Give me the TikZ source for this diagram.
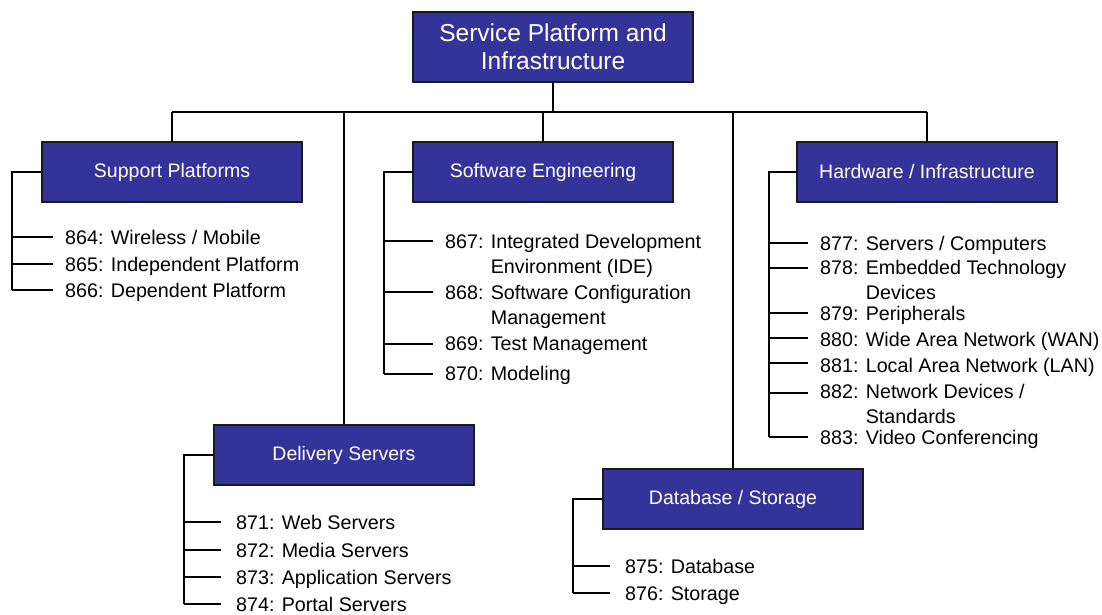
\documentclass[tikz,border=0pt]{standalone}
\usepackage{fontspec}
\setmainfont{Liberation Sans}
\definecolor{boxblue}{HTML}{333399}
\definecolor{edgegray}{HTML}{1A1A1A}
\tikzset{
  bluebox/.style={draw=edgegray, line width=1.5pt, fill=boxblue, text=white,
    minimum width=260pt, minimum height=60pt, inner sep=0pt,
    font=\fontsize{19.5}{24}\selectfont},
  titlebox/.style={bluebox, minimum width=280pt, minimum height=70pt, align=center,
    font=\fontsize{24.5}{28}\selectfont},
  item/.style={anchor=base west, inner sep=0pt, font=\fontsize{19.7}{25.7}\selectfont},
  mainline/.style={line width=2.2pt, draw=black},
  bus/.style={line width=1.6pt, draw=black},
  drop/.style={line width=1.1pt, draw=black},
  trunk/.style={line width=1.6pt, draw=black},
  tick/.style={line width=1.1pt, draw=black},
}
\newcommand{\twoline}[3]{\begin{tabular}[t]{@{}l@{ }l@{}}#1 & #2\\ & #3\end{tabular}}
\begin{document}
\begin{tikzpicture}[x=1pt, y=-1pt]
\useasboundingbox (0,0) rectangle (1102,614);

% boxes
\node[titlebox] (top) at (553,47) {Service Platform and\\Infrastructure};
\node[bluebox] (sp) at (172,172) {Support Platforms};
\node[bluebox] (se) at (543,172) {Software Engineering};
\node[bluebox] (hw) at (927,172) {Hardware / Infrastructure};
\node[bluebox] (ds) at (344,455) {Delivery Servers};
\node[bluebox] (db) at (733,499) {Database / Storage};

% bus
\coordinate (bus) at (553,112);
\coordinate (busL) at (172,112);
\coordinate (busR) at (927,112);
\draw[mainline] (top.south) -- (bus);
\draw[bus] (busL) -- (busR);
\draw[drop] (sp.north) -- (sp.north |- bus);
\draw[drop] (se.north) -- (se.north |- bus);
\draw[drop] (hw.north) -- (hw.north |- bus);
\draw[drop] (ds.north) -- (ds.north |- bus);
\draw[drop] (db.north) -- (db.north |- bus);

% Support Platforms items
\node[item] (i864) at (65,244) {864: Wireless / Mobile};
\node[item] (i865) at (65,271) {865: Independent Platform};
\node[item] (i866) at (65,297) {866: Dependent Platform};
\coordinate (spt) at (12,172);
\draw[trunk] (sp.west) -- (spt) -- (spt |- 0,290);
\foreach \n/\y in {i864/237,i865/264,i866/290}
  \draw[tick] (spt |- 0,\y) -- (53,\y);

% Software Engineering items
\node[item] (i867) at (445,248) {\twoline{867:}{Integrated Development}{Environment (IDE)}};
\node[item] (i868) at (445,299) {\twoline{868:}{Software Configuration}{Management}};
\node[item] (i869) at (445,350) {869: Test Management};
\node[item] (i870) at (445,380) {870: Modeling};
\coordinate (set) at (384,172);
\draw[trunk] (se.west) -- (set) -- (set |- 0,374);
\foreach \y in {241,292,344,374}
  \draw[tick] (set |- 0,\y) -- (433,\y);

% Hardware items
\node[item] (i877) at (820,250) {877: Servers / Computers};
\node[item] (i878) at (820,274) {\twoline{878:}{Embedded Technology}{Devices}};
\node[item] (i879) at (820,320) {879: Peripherals};
\node[item] (i880) at (820,346) {880: Wide Area Network (WAN)};
\node[item] (i881) at (820,372) {881: Local Area Network (LAN)};
\node[item] (i882) at (820,398) {\twoline{882:}{Network Devices /}{Standards}};
\node[item] (i883) at (820,444) {883: Video Conferencing};
\coordinate (hwt) at (769,172);
\draw[trunk] (hw.west) -- (hwt) -- (hwt |- 0,437);
\foreach \y in {243,268,313,338,363,393,437}
  \draw[tick] (hwt |- 0,\y) -- (808,\y);

% Delivery Servers items
\node[item] (i871) at (236,529) {871: Web Servers};
\node[item] (i872) at (236,557) {872: Media Servers};
\node[item] (i873) at (236,584) {873: Application Servers};
\node[item] (i874) at (236,611) {874: Portal Servers};
\coordinate (dst) at (184,455);
\draw[trunk] (ds.west) -- (dst) -- (dst |- 0,604);
\foreach \y in {522,550,577,604}
  \draw[tick] (dst |- 0,\y) -- (221,\y);

% Database items
\node[item] (i875) at (625,573) {875: Database};
\node[item] (i876) at (625,600) {876: Storage};
\coordinate (dbt) at (573,499);
\draw[trunk] (db.west) -- (dbt) -- (dbt |- 0,593);
\foreach \y in {566,593}
  \draw[tick] (dbt |- 0,\y) -- (610,\y);
\end{tikzpicture}
\end{document}
